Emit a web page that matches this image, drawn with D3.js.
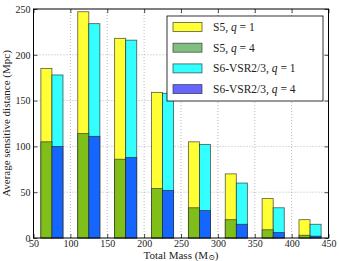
<!DOCTYPE html>
<html>
<head>
<meta charset="utf-8">
<script src="https://cdn.jsdelivr.net/npm/d3@7"></script>
<style>
body { margin: 0; background: #fff; }
text { font-family: "Liberation Serif", "DejaVu Serif", serif; fill: #222; }
</style>
</head>
<body>
<svg id="chart" width="339" height="261"></svg>
<script>
// bin centres (total mass, solar masses)
const masses = [75, 125, 175, 225, 275, 325, 375, 425];
const s5q1 = [185, 247, 218, 159, 105, 70, 43, 20];
const s5q4 = [105, 114, 86, 54, 33, 20, 9, 3];
const s6q1 = [178, 234, 216, 158, 102, 60, 33, 15];
const s6q4 = [100, 111, 88, 52, 30, 15, 6, 2];
const xTicks = [50, 100, 150, 200, 250, 300, 350, 400, 450];
const yTicks = [0, 50, 100, 150, 200, 250];

const legendItems = [
    { name: "S5, ", q: "1", color: "#ffff33" },
    { name: "S5, ", q: "4", color: "#80bf80" },
    { name: "S6-VSR2/3, ", q: "1", color: "#33ffff" },
    { name: "S6-VSR2/3, ", q: "4", color: "#6666ff" }
];

const margin = { left: 33.5, right: 10.5, top: 9, bottom: 23 };
const width = 339, height = 261;
const barW = 15;

var svg = d3.select("#chart");

const x = d3.scaleLinear().domain([50, 450]).range([margin.left, width - margin.right]);
const y = d3.scaleLinear().domain([0, 250]).range([height - margin.bottom, margin.top]);

// grid
const grid = svg.append("g");
grid.selectAll(".vg").data(xTicks.slice(1, -1)).enter().append("line")
    .attr("x1", d => x(d)).attr("x2", d => x(d))
    .attr("y1", y(0)).attr("y2", y(250))
    .attr("stroke", "#999").attr("stroke-width", 0.7).attr("stroke-dasharray", "1,2");
grid.selectAll(".hg").data(yTicks.slice(1, -1)).enter().append("line")
    .attr("x1", x(50)).attr("x2", x(450))
    .attr("y1", d => y(d)).attr("y2", d => y(d))
    .attr("stroke", "#999").attr("stroke-width", 0.7).attr("stroke-dasharray", "1,2");

function drawBars(vals, offset, fill) {
    svg.append("g").selectAll("rect").data(vals).enter().append("rect")
        .attr("x", (d, i) => x(masses[i] + offset))
        .attr("width", (d, i) => x(masses[i] + offset + barW) - x(masses[i] + offset))
        .attr("y", d => y(d))
        .attr("height", d => y(0) - y(d))
        .attr("fill", fill)
        .attr("stroke", "#222").attr("stroke-opacity", 0.75).attr("stroke-width", 0.8);
}
drawBars(s5q1, -barW, "#ffff33");
drawBars(s6q1, 0, "#33ffff");
drawBars(s5q4, -barW, "#80bf1a");
drawBars(s6q4, 0, "#1466ff");

// frame
svg.append("rect")
    .attr("x", x(50)).attr("y", y(250))
    .attr("width", x(450) - x(50)).attr("height", y(0) - y(250))
    .attr("fill", "none").attr("stroke", "#000").attr("stroke-width", 1);

// axes with inward ticks
const xAxis = svg.append("g").attr("transform", "translate(0," + y(0) + ")")
    .call(d3.axisBottom(x).tickValues(xTicks).tickSize(-4).tickPadding(2).tickFormat(d3.format("d")));
const xTop = svg.append("g").attr("transform", "translate(0," + y(250) + ")")
    .call(d3.axisTop(x).tickValues(xTicks).tickSize(-4).tickFormat(""));
const yAxis = svg.append("g").attr("transform", "translate(" + x(50) + ",0)")
    .call(d3.axisLeft(y).tickValues(yTicks).tickSize(-4).tickPadding(3).tickFormat(d3.format("d")));
const yRight = svg.append("g").attr("transform", "translate(" + x(450) + ",0)")
    .call(d3.axisRight(y).tickValues(yTicks).tickSize(-4).tickFormat(""));
[xAxis, xTop, yAxis, yRight].forEach(a => {
    a.select(".domain").remove();
    a.selectAll("text").style("font-family", "Liberation Serif, serif").style("font-size", "10px").attr("fill", "#222");
    a.selectAll("line").attr("stroke", "#000").attr("stroke-width", 0.7);
});

// axis labels
svg.append("text")
    .attr("x", (x(50) + x(450)) / 2).attr("y", 258.5)
    .attr("text-anchor", "middle").style("font-size", "11px")
    .html("Total Mass (M<tspan font-size='8px' dy='1'>\u2299</tspan><tspan dy='-1'>)</tspan>");
svg.append("text")
    .attr("transform", "translate(10," + ((y(0) + y(250)) / 2) + ") rotate(-90)")
    .attr("text-anchor", "middle").style("font-size", "11px")
    .text("Average sensitive distance (Mpc)");

// legend
const lg = svg.append("g");
lg.append("rect").attr("x", 167).attr("y", 16).attr("width", 156).attr("height", 85)
    .attr("fill", "#fff").attr("stroke", "#000").attr("stroke-width", 0.8);
const rows = lg.selectAll(".row").data(legendItems).enter().append("g")
    .attr("transform", (d, i) => "translate(0," + (27 + i * 20.7) + ")");
rows.append("rect").attr("x", 173).attr("y", -4.5).attr("width", 29).attr("height", 9)
    .attr("fill", d => d.color).attr("stroke", "#222").attr("stroke-opacity", 0.75).attr("stroke-width", 0.8);
const lt = rows.append("text").attr("x", 213).attr("y", 4).style("font-size", "11.5px");
lt.append("tspan").text(d => d.name);
lt.append("tspan").style("font-style", "italic").text("q");
lt.append("tspan").text(d => " = " + d.q);
</script>
</body>
</html>
